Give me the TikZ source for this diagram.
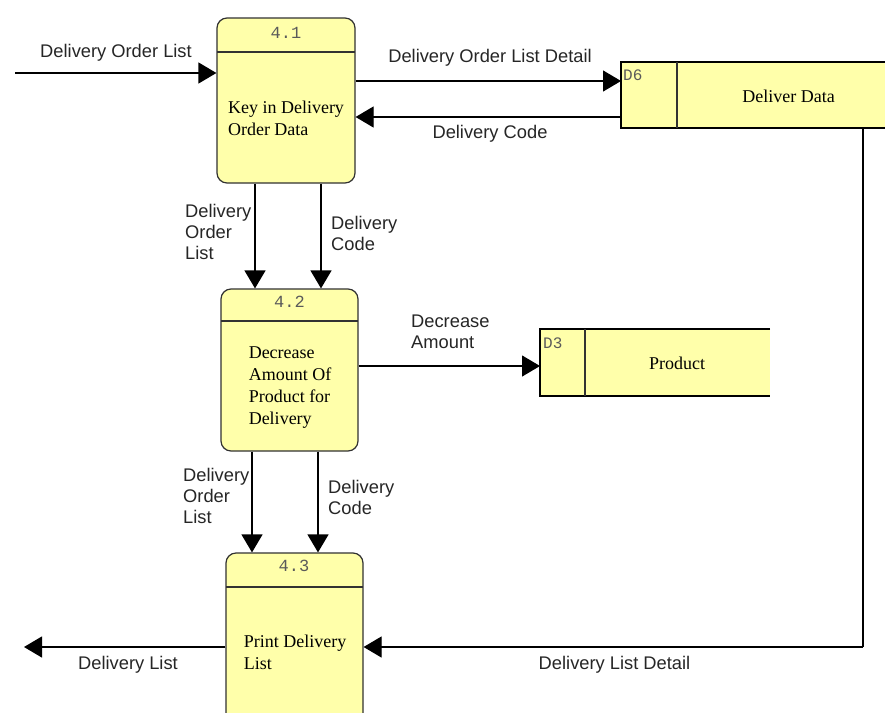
\documentclass[tikz,border=0pt]{standalone}
\usepackage{fontspec}
\setmainfont{Liberation Serif}
\setsansfont{Liberation Sans}
\setmonofont{Liberation Mono}
\usetikzlibrary{arrows.meta}

\definecolor{procfill}{RGB}{255,255,170}
\definecolor{edgegray}{RGB}{50,50,50}
\definecolor{idgray}{RGB}{90,90,90}

\tikzset{
  proc/.style={draw=edgegray, line width=1.2pt, fill=procfill, rounded corners=10pt,
    inner sep=0pt},
  storebox/.style={fill=procfill, inner sep=0pt},
  storeline/.style={draw=black, line width=1.2pt},
  divider/.style={draw=edgegray, line width=1.1pt},
  flow/.style={draw=black, line width=1.2pt, -{Triangle[length=18pt,width=21pt]}},
  plainflow/.style={draw=black, line width=1.2pt},
  lbl/.style={font=\sffamily\fontsize{18.3}{21}\selectfont, align=left, inner sep=0pt,
    text=black!85},
  body/.style={font=\rmfamily\fontsize{18}{22}\selectfont, align=left, inner sep=0pt},
  pid/.style={font=\ttfamily\fontsize{17}{18}\selectfont, text=idgray, inner sep=0pt},
  sid/.style={font=\ttfamily\fontsize{16}{17}\selectfont, text=idgray, inner sep=0pt, anchor=north west},
}

\begin{document}
\begin{tikzpicture}[x=1pt, y=-1pt]
  \useasboundingbox (0,0) rectangle (885,712);
  \clip (0,0) rectangle (885,712);
  \fill[white] (0,0) rectangle (885,712);

  % ---- processes ----
  \node[proc, minimum width=138pt, minimum height=165pt] (p1) at (286,100.5) {};
  \draw[divider] (217,52) -- (355,52);
  \node[pid] (p1id) at (286,33) {4.1};
  \node[body] (p1txt) at (286,118) {Key in Delivery\\Order Data};

  \node[proc, minimum width=137pt, minimum height=162pt] (p2) at (289.5,370) {};
  \draw[divider] (221,321) -- (358,321);
  \node[pid] (p2id) at (289.5,302) {4.2};
  \node[body] (p2txt) at (290,388) {Decrease\\Amount Of\\Product for\\Delivery};

  \node[proc, minimum width=137pt, minimum height=177pt] (p3) at (294.5,641.5) {};
  \draw[divider] (226,587) -- (363,587);
  \node[pid] (p3id) at (294,566) {4.3};
  \node[body] (p3txt) at (295,652) {Print Delivery\\List};

  % ---- data stores ----
  \node[storebox, minimum width=300pt, minimum height=66pt, anchor=north west] (d6) at (621,62) {};
  \draw[storeline] (900,62) -- (621,62) -- (621,128) -- (900,128);
  \draw[divider] (677,62) -- (677,128);
  \node[sid] (d6id) at (623,70) {D6};
  \node[body] (d6txt) at (788.5,96) {Deliver Data};

  \node[storebox, minimum width=230pt, minimum height=67pt, anchor=north west] (d3) at (540,329) {};
  \draw[storeline] (770,329) -- (540,329) -- (540,396) -- (770,396);
  \draw[divider] (585,329) -- (585,396);
  \node[sid] (d3id) at (543,338) {D3};
  \node[body] (d3txt) at (677,363) {Product};

  % ---- free ends ----
  \coordinate (src) at (15,73);
  \coordinate (sink) at (24,647);
  \coordinate (bend) at (863,647);

  % ---- flows ----
  \draw[flow] (src) -- (p1.west |- src);
  \node[lbl] (l1) at (116,52.5) {Delivery Order List};

  \draw[flow] (p1.east |- 0,81) -- (d6.west |- 0,81);
  \node[lbl] (l2) at (490,58) {Delivery Order List Detail};

  \draw[flow] (d6.west |- 0,117) -- (p1.east |- 0,117);
  \node[lbl] (l3) at (490,134) {Delivery Code};

  \draw[flow] (p1.south -| 255,0) -- (p2.north -| 255,0);
  \node[lbl, anchor=west] (l4) at (185,231.5) {Delivery\\Order\\List};
  \draw[flow] (p1.south -| 321,0) -- (p2.north -| 321,0);
  \node[lbl, anchor=west] (l5) at (331,233) {Delivery\\Code};

  \draw[flow] (p2.east |- 0,366) -- (d3.west |- 0,366);
  \node[lbl, anchor=west] (l6) at (411,331.5) {Decrease\\Amount};

  \draw[flow] (p2.south -| 252,0) -- (p3.north -| 252,0);
  \node[lbl, anchor=west] (l7) at (183,496) {Delivery\\Order\\List};
  \draw[flow] (p2.south -| 318,0) -- (p3.north -| 318,0);
  \node[lbl, anchor=west] (l8) at (328,497.5) {Delivery\\Code};

  \draw[plainflow] (d6.south -| bend) -- (bend);
  \draw[flow] (bend) -- (p3.east |- bend);
  \node[lbl] (l9) at (614.5,665) {Delivery List Detail};

  \draw[flow] (p3.west |- sink) -- (sink);
  \node[lbl] (l10) at (128,665) {Delivery List};
\end{tikzpicture}
\end{document}
